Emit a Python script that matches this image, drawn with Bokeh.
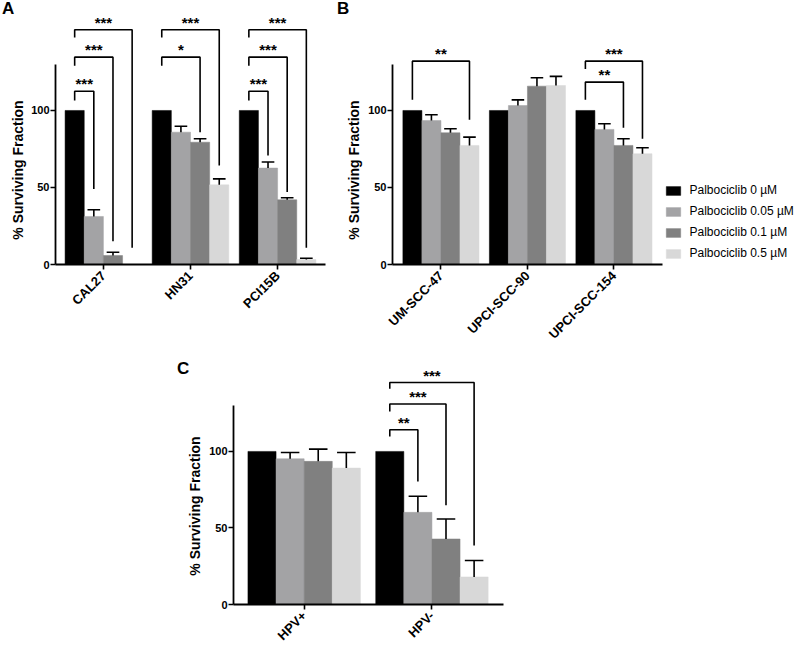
import math
from bokeh.plotting import figure
from bokeh.layouts import row, column, Spacer
from bokeh.models import FixedTicker, Legend, LegendItem, Range1d, Div
from bokeh.core.properties import value
from bokeh.embed import file_html
from bokeh.resources import INLINE

FONT = "Liberation Sans"

series_names = ["Palbociclib 0 µM", "Palbociclib 0.05 µM", "Palbociclib 0.1 µM", "Palbociclib 0.5 µM"]
series_colors = ["#000000", "#a3a3a5", "#808080", "#d8d8d8"]

# Panel A
a_groups = ["CAL27", "HN31", "PCI15B"]
a_means = [
    [100, 100, 100],
    [31.2, 85.9, 62.6],
    [5.8, 79.4, 42.0],
    [0.0, 51.7, 3.2],
]
a_sems = [
    [0, 0, 0],
    [4.3, 3.9, 3.9],
    [2.2, 2.2, 1.3],
    [0, 3.9, 0.9],
]
# (group index, compared series, left leg bottom, bracket top, right leg bottom, label)
a_brackets = [
    (0, 1, 106.5, 112.5, 49.0, "***"),
    (0, 2, 129.0, 134.6, 15.1, "***"),
    (0, 3, 147.4, 152.4, 10.8, "***"),
    (1, 2, 129.0, 134.6, 85.9, "*"),
    (1, 3, 147.4, 152.4, 64.3, "***"),
    (2, 1, 106.5, 112.5, 70.8, "***"),
    (2, 2, 129.0, 134.6, 47.0, "***"),
    (2, 3, 147.4, 152.4, 10.8, "***"),
]

# Panel B
b_groups = ["UM-SCC-47", "UPCI-SCC-90", "UPCI-SCC-154"]
b_means = [
    [100, 100, 100],
    [93.5, 103.2, 87.7],
    [85.5, 115.8, 77.3],
    [77.3, 116.2, 71.9],
]
b_sems = [
    [0, 0, 0],
    [3.7, 3.7, 3.7],
    [2.6, 5.4, 4.3],
    [5.4, 5.9, 3.9],
]
b_brackets = [
    (0, 3, 107.0, 132.0, 94.0, "**"),
    (2, 2, 107.0, 118.4, 88.7, "**"),
    (2, 3, 127.0, 132.0, 81.6, "***"),
]

# Panel C
c_groups = ["HPV+", "HPV-"]
c_means = [
    [100, 100],
    [95.2, 60.2],
    [93.5, 42.8],
    [89.1, 18.0],
]
c_sems = [
    [0, 0],
    [4.1, 10.5],
    [8.0, 13.1],
    [10.2, 10.7],
]
c_brackets = [
    (1, 1, 109.8, 114.2, 80.4, "**"),
    (1, 2, 126.0, 131.0, 64.8, "***"),
    (1, 3, 141.0, 145.0, 38.5, "***"),
]

panel_letters = ["A", "B", "C"]
y_title = "% Surviving Fraction"

y_ticks = [0, 50, 100]
y_axis_top = 130

BW = 0.22
OFFS = [(-1.5 + i) * BW for i in range(4)]


def make_panel(groups, means, sems, brackets, xr, xbounds, ytop, fw, fh, left, top, right, bottom):
    p = figure(frame_width=fw, frame_height=fh, x_range=Range1d(*xr), y_range=Range1d(0, ytop),
               output_backend="svg", toolbar_location=None,
               min_border_left=left, min_border_right=right, min_border_top=top,
               min_border_bottom=bottom)
    p.outline_line_color = None
    p.xgrid.visible = False
    p.ygrid.visible = False
    p.background_fill_color = "white"
    p.border_fill_color = None

    renderers = []
    for i in range(4):
        xs = [g + OFFS[i] for g in range(len(groups))]
        rr = p.vbar(x=xs, top=means[i], width=BW, bottom=0,
                    fill_color=series_colors[i], line_color=series_colors[i], line_width=0.5)
        renderers.append(rr)
        sx, sy0, sy1, cx0, cx1, cy = [], [], [], [], [], []
        for gi in range(len(groups)):
            if sems[i][gi] > 0:
                xc = gi + OFFS[i]
                t = means[i][gi] + sems[i][gi]
                sx.append(xc); sy0.append(means[i][gi]); sy1.append(t)
                cx0.append(xc - 0.33 * BW); cx1.append(xc + 0.33 * BW); cy.append(t)
        if sx:
            p.segment(x0=sx, x1=sx, y0=sy0, y1=sy1, line_color="black", line_width=1.6)
            p.segment(x0=cx0, x1=cx1, y0=cy, y1=cy, line_color="black", line_width=1.6)

    bxs, bys, tx, ty, tt = [], [], [], [], []
    for (g, s, lb, bt, rb, lab) in brackets:
        xl = g + OFFS[0]
        xr_ = g + OFFS[s]
        bxs.append([xl, xl, xr_, xr_])
        bys.append([lb, bt, bt, rb])
        tx.append((xl + xr_) / 2)
        ty.append(bt + 4.8)
        tt.append(lab)
    p.multi_line(xs=bxs, ys=bys, line_color="black", line_width=1.6)
    p.text(x=tx, y=ty, text=tt, text_align="center", text_baseline="alphabetic",
           text_font=value(FONT), text_font_style="bold", text_font_size="15px", text_color="black")

    # axes
    p.xaxis.ticker = FixedTicker(ticks=list(range(len(groups))), minor_ticks=[])
    p.xaxis.major_label_overrides = {i: g for i, g in enumerate(groups)}
    p.xaxis.major_label_orientation = math.pi / 4
    p.xaxis.bounds = xbounds
    p.yaxis.ticker = FixedTicker(ticks=y_ticks, minor_ticks=[])
    p.yaxis.bounds = (0, y_axis_top)
    for ax in (p.xaxis[0], p.yaxis[0]):
        ax.axis_line_width = 1.8
        ax.axis_line_color = "black"
        ax.major_tick_line_width = 1.6
        ax.major_tick_line_color = "black"
        ax.major_tick_out = 5
        ax.major_tick_in = 0
        ax.minor_tick_line_color = None
        ax.major_label_text_font = FONT
        ax.major_label_text_font_style = "bold"
        ax.major_label_text_color = "black"
    p.xaxis.major_label_standoff = 4
    p.yaxis.major_label_standoff = 1
    p.xaxis.major_label_text_font_size = "13px"
    p.yaxis.major_label_text_font_size = "11px"
    return p, renderers


pa, _ = make_panel(a_groups, a_means, a_sems, a_brackets, (-0.55, 2.55), (-0.55, 2.55), 163.6,
                   270, 252, 55, 0, 10, 90)
pb, rb = make_panel(b_groups, b_means, b_sems, b_brackets, (-0.56, 4.157), (-0.56, 2.56), 163.6,
                    408, 252, 57, 0, 0, 90)
pc, _ = make_panel(c_groups, c_means, c_sems, c_brackets, (-0.553, 1.56), (-0.553, 1.56), 160.7,
                   270, 246, 57, 4, 8, 48)

legend = Legend(items=[LegendItem(label=n, renderers=[r]) for n, r in zip(series_names, rb)],
                location=(271.5, 4), orientation="vertical",
                glyph_width=18, glyph_height=11, label_standoff=8, spacing=7,
                label_height=14, padding=2, margin=0,
                label_text_font=FONT, label_text_font_size="12px", label_text_color="black",
                border_line_color=None, background_fill_alpha=0)
pb.add_layout(legend, "center")

letter_style = ("position:absolute;font-family:'Liberation Sans';font-weight:bold;"
                "font-size:17px;line-height:17px;color:black;")
ytitle_style = ("position:absolute;font-family:'Liberation Sans';font-weight:bold;font-size:14px;"
                "line-height:14px;color:black;white-space:nowrap;"
                "transform:translate(-50%,-50%) rotate(-90deg);")
letter_pos = [(2, 0), (337, 0), (177, 360)]
ytitle_pos = [(17.5, 169.5), (354, 169.5), (195, 506)]
html = '<div style="position:relative;width:800px;height:12px;overflow:visible;">'
html += "".join(f'<span style="{letter_style}left:{x}px;top:{y}px;">{t}</span>'
                for t, (x, y) in zip(panel_letters, letter_pos))
html += "".join(f'<span style="{ytitle_style}left:{x}px;top:{y}px;">{y_title}</span>'
                for (x, y) in ytitle_pos)
html += "</div>"
overlay = Div(text=html, width=800, height=12, margin=0,
              styles={"overflow": "visible", "z-index": "10"})

layout = column(overlay, row(pa, pb), row(Spacer(width=176, height=10), pc))

open("out.html", "w").write(file_html(layout, INLINE))
